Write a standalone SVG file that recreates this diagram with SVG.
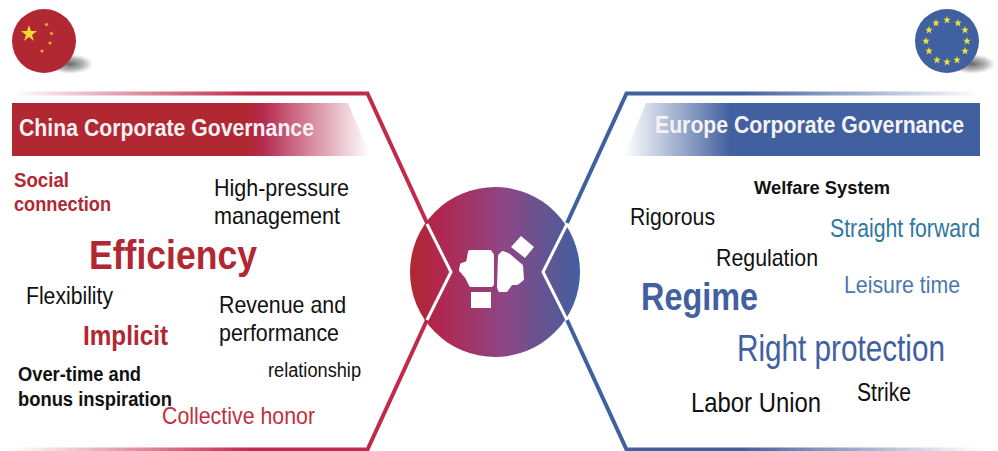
<svg xmlns="http://www.w3.org/2000/svg" width="998" height="451" viewBox="0 0 998 451">
<style>
text{font-family:"Liberation Sans",Arial,sans-serif;fill:#111}
.b{font-weight:bold}
.r{fill:#b12732}
.bl{fill:#41609f}
.w{fill:#f6f2f3}
.ln{fill:none;stroke-width:4;stroke-linejoin:miter}
</style>
<defs>
<linearGradient id="gc" gradientUnits="userSpaceOnUse" x1="410" x2="580" y1="0" y2="0"><stop offset="0" stop-color="#b12732"/><stop offset=".18" stop-color="#b0274f"/><stop offset=".55" stop-color="#8e4684"/><stop offset="1" stop-color="#41609f"/></linearGradient>
<linearGradient id="lr" gradientUnits="userSpaceOnUse" x1="12" x2="250" y1="0" y2="0"><stop offset="0" stop-color="#c22a4c" stop-opacity="0"/><stop offset="1" stop-color="#c22a4c"/></linearGradient>
<linearGradient id="lb" gradientUnits="userSpaceOnUse" x1="980" x2="740" y1="0" y2="0"><stop offset="0" stop-color="#41609f" stop-opacity="0"/><stop offset="1" stop-color="#41609f"/></linearGradient>
<linearGradient id="br" gradientUnits="userSpaceOnUse" x1="12" x2="370" y1="0" y2="0"><stop offset=".66" stop-color="#b12732"/><stop offset=".7" stop-color="#b5294e"/><stop offset="1" stop-color="#b5294e" stop-opacity="0"/></linearGradient>
<linearGradient id="bb" gradientUnits="userSpaceOnUse" x1="624" x2="980" y1="0" y2="0"><stop offset="0" stop-color="#41609f" stop-opacity="0"/><stop offset=".3" stop-color="#41609f"/></linearGradient>
<radialGradient id="sh"><stop offset="0" stop-color="#666"/><stop offset=".6" stop-color="#999" stop-opacity=".7"/><stop offset="1" stop-color="#bbb" stop-opacity="0"/></radialGradient>
<polygon id="s" points="0,-4 1,-1.300 3.800,-1.200 1.600,.6 2.400,3.400 0,1.800 -2.400,3.400 -1.600,.6 -3.800,-1.200 -1,-1.300" fill="#e8e33a"/>
</defs>
<g id="connectors">
<path class="ln" stroke="url(#lr)" d="M12 93.500H367.500L427 223"/>
<path class="ln" stroke="url(#lr)" d="M12 449.500H367.500L427 320"/>
<path class="ln" stroke="url(#lb)" d="M980 93.500H626.500L567 223"/>
<path class="ln" stroke="url(#lb)" d="M980 449.500H626.500L567 320"/>
</g>
<g id="hub">
<circle cx="495" cy="272" r="85" fill="url(#gc)"/>
<path d="M427 224L451 272L427 320M567 224L543 272L567 320" fill="none" stroke="#fff" stroke-width="3"/>
<g fill="#fff" stroke="#fff" stroke-width="4" stroke-linejoin="round">
<path d="M470 252H490L492 255V284L491 285H471L467 277L461 270L462 265L468 263Z"/>
<path d="M500 256L503 253L508 255L521 266L522 279L517 283L511 283L506 290H500L499 287Z"/>
</g>
<g fill="#fff">
<rect x="471" y="292" width="20" height="16"/>
<polygon points="521,236 534,247 525,258 511,247"/>
</g>
</g>
<g id="china-flag">
<ellipse cx="70" cy="64" rx="24" ry="10" fill="url(#sh)"/>
<circle cx="44" cy="41" r="32" fill="#b12732"/>
<polygon points="29,25 31,31 37,31 32,35 34,41 29,37 24,41 26,35 21,31 27,31" fill="#f3d92f"/>
<g fill="#e0b02c"><circle cx="46.500" cy="24.500" r="1.600"/><circle cx="51.500" cy="33.500" r="1.600"/><circle cx="50" cy="43" r="1.600"/><circle cx="42" cy="51" r="1.600"/></g>
</g>
<g id="eu-flag">
<ellipse cx="972" cy="64" rx="24" ry="10" fill="url(#sh)"/>
<circle cx="947" cy="41" r="32" fill="#41609f"/>
<use href="#s" x="947" y="20"/><use href="#s" x="958" y="23"/><use href="#s" x="965" y="30"/><use href="#s" x="967" y="41"/><use href="#s" x="965" y="51"/><use href="#s" x="957" y="60"/><use href="#s" x="947" y="62"/><use href="#s" x="937" y="60"/><use href="#s" x="929" y="51"/><use href="#s" x="926" y="41"/><use href="#s" x="929" y="30"/><use href="#s" x="936" y="23"/>
</g>
<g id="china-panel">
<polygon points="12,103 348,103 370,156 12,156" fill="url(#br)"/>
<text class="b w" x="19" y="136" font-size="24" textLength="295" lengthAdjust="spacingAndGlyphs">China Corporate Governance</text>
<text class="b r" x="14" y="187" font-size="20" textLength="55" lengthAdjust="spacingAndGlyphs">Social</text>
<text class="b r" x="14" y="211" font-size="20" textLength="97" lengthAdjust="spacingAndGlyphs">connection</text>
<text x="214" y="196" font-size="24" textLength="135" lengthAdjust="spacingAndGlyphs">High-pressure</text>
<text x="214" y="224" font-size="24" textLength="126" lengthAdjust="spacingAndGlyphs">management</text>
<text class="b r" x="89" y="269" font-size="41" textLength="168" lengthAdjust="spacingAndGlyphs">Efficiency</text>
<text x="26" y="304" font-size="23" textLength="87" lengthAdjust="spacingAndGlyphs">Flexibility</text>
<text class="b r" x="83" y="345" font-size="28" textLength="85" lengthAdjust="spacingAndGlyphs">Implicit</text>
<text x="219" y="313" font-size="24" textLength="127" lengthAdjust="spacingAndGlyphs">Revenue and</text>
<text x="219" y="341" font-size="24" textLength="120" lengthAdjust="spacingAndGlyphs">performance</text>
<text x="268" y="377" font-size="20" textLength="93" lengthAdjust="spacingAndGlyphs">relationship</text>
<text class="b" x="18" y="381" font-size="20" textLength="123" lengthAdjust="spacingAndGlyphs">Over-time and</text>
<text class="b" x="18" y="406" font-size="20" textLength="154" lengthAdjust="spacingAndGlyphs">bonus inspiration</text>
<text x="162" y="424" font-size="24" textLength="153" lengthAdjust="spacingAndGlyphs" style="fill:#c0303f">Collective honor</text>
</g>
<g id="europe-panel">
<polygon points="646,103 980,103 980,156 624,156" fill="url(#bb)"/>
<text class="b w" x="655" y="133" font-size="24" textLength="309" lengthAdjust="spacingAndGlyphs">Europe Corporate Governance</text>
<text class="b" x="754" y="194" font-size="19" textLength="136" lengthAdjust="spacingAndGlyphs">Welfare System</text>
<text x="630" y="225" font-size="24" textLength="85" lengthAdjust="spacingAndGlyphs">Rigorous</text>
<text x="830" y="237" font-size="25" textLength="150" lengthAdjust="spacingAndGlyphs" style="fill:#2f77a0">Straight forward</text>
<text x="716" y="266" font-size="24" textLength="102" lengthAdjust="spacingAndGlyphs">Regulation</text>
<text x="844" y="293" font-size="24" textLength="116" lengthAdjust="spacingAndGlyphs" style="fill:#4a78ae">Leisure time</text>
<text class="b bl" x="641" y="310" font-size="38" textLength="117" lengthAdjust="spacingAndGlyphs">Regime</text>
<text class="bl" x="737" y="361" font-size="37" textLength="208" lengthAdjust="spacingAndGlyphs">Right protection</text>
<text x="691" y="412" font-size="28" textLength="130" lengthAdjust="spacingAndGlyphs">Labor Union</text>
<text x="857" y="401" font-size="25" textLength="54" lengthAdjust="spacingAndGlyphs">Strike</text>
</g>
</svg>
